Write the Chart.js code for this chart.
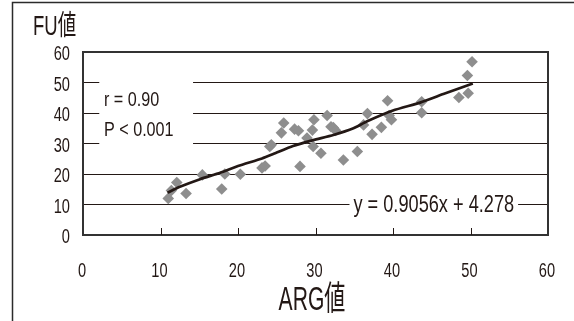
<!DOCTYPE html>
<html>
<head>
<meta charset="utf-8">
<script src="https://cdn.jsdelivr.net/npm/chart.js@4"></script>
<style>
html,body{margin:0;padding:0;background:#fff;}
#wrap{width:574px;height:321px;position:relative;}
</style>
</head>
<body>
<div id="wrap"><canvas id="c" width="574" height="321"></canvas></div>
<script>
// ---- data ----
const argValues = [11.0,11.4,12.1,13.3,15.4,17.9,18.3,20.3,23.1,23.5,24.1,24.3,25.6,25.9,27.3,27.8,28.0,28.9,29.6,29.8,29.7,30.7,31.5,32.0,32.3,32.6,33.6,35.4,36.2,36.7,37.3,38.5,39.3,39.5,39.8,43.7,43.7,48.5,49.7,49.6,50.2];
const fuValues  = [12.0,14.6,17.2,13.6,19.7,15.1,20.0,19.9,22.0,22.6,29.0,29.6,33.5,36.7,34.7,34.2,22.5,31.8,34.4,37.8,29.0,26.8,39.2,35.5,35.2,34.3,24.6,27.4,36.1,39.8,33.0,35.3,44.0,39.2,37.8,43.7,40.1,45.1,46.5,52.3,56.8];
const trendX = [10.9,12.5,15.1,17.7,20.0,23.1,24.6,27.1,29.7,32.3,34.9,36.6,40.0,43.5,46.5,50.3];
const trendY = [13.9,15.8,18.3,20.4,22.6,25.1,26.6,29.2,31.1,32.8,35.0,37.2,40.8,43.4,46.2,49.7];
const xTickLabels = ["0","10","20","30","40","50","60"];
const yTickLabels = ["0","10","20","30","40","50","60"];
const xTitle = "ARG値";
const yTitle = "FU値";
const rText = "r = 0.90";
const pText = "P < 0.001";
const eqText = "y = 0.9056x + 4.278";

const FONT = "'Liberation Sans', 'Noto Sans CJK JP', sans-serif";
const INK = '#231815';

const scatterPts = argValues.map((x,i)=>({x:x,y:fuValues[i]}));
const trendPts = trendX.map((x,i)=>({x:x,y:trendY[i]}));

// draws real text, horizontally condensed to imitate the narrow typeface
function drawCondensed(ctx, text, x, y, size, sx, align, baseline){
  ctx.save();
  ctx.font = size + "px " + FONT;
  ctx.fillStyle = INK;
  ctx.textBaseline = baseline || 'alphabetic';
  const w = ctx.measureText(text).width * sx;
  let left = x;
  if (align === 'center') left = x - w/2;
  else if (align === 'right') left = x - w;
  ctx.translate(left, y);
  ctx.scale(sx, 1);
  ctx.textAlign = 'left';
  ctx.fillText(text, 0, 0);
  ctx.restore();
  return w;
}
function condensedWidth(ctx, text, size, sx){
  ctx.save();
  ctx.font = size + "px " + FONT;
  const w = ctx.measureText(text).width * sx;
  ctx.restore();
  return w;
}

const decor = {
  id: 'decor',
  beforeDraw(chart){
    const ctx = chart.ctx;
    ctx.save();
    ctx.fillStyle = '#fff';
    ctx.fillRect(0,0,chart.width,chart.height);
    ctx.strokeStyle = '#2b2b2b';
    ctx.lineWidth = 1.5;
    ctx.beginPath();
    ctx.moveTo(12.5, chart.height);
    ctx.lineTo(12.5, 2.5);
    ctx.lineTo(chart.width, 2.5);
    ctx.stroke();
    ctx.restore();
  },
  beforeDatasetsDraw(chart){
    const ctx = chart.ctx;
    const xs = chart.scales.x, ys = chart.scales.y;
    const a = chart.chartArea;
    ctx.save();
    // plot border
    ctx.strokeStyle = '#333';
    ctx.lineWidth = 2;
    ctx.strokeRect(a.left, a.top, a.right - a.left, a.bottom - a.top);
    // inner tick marks on x axis
    ctx.lineWidth = 1;
    ctx.strokeStyle = INK;
    xs.ticks.forEach(t=>{
      if (t.value <= xs.min || t.value >= xs.max) return;
      const px = Math.round(xs.getPixelForValue(t.value)) + 0.5;
      ctx.beginPath();
      ctx.moveTo(px, a.bottom);
      ctx.lineTo(px, a.bottom - 7);
      ctx.stroke();
    });
    // white label boxes
    ctx.fillStyle = '#fff';
    const bx1 = xs.getPixelForValue(2.1), bx2 = xs.getPixelForValue(14.2);
    const by1 = ys.getPixelForValue(52.5), by2 = ys.getPixelForValue(28.3);
    ctx.fillRect(bx1, by1, bx2 - bx1, by2 - by1);
    const ew = condensedWidth(ctx, eqText, 23, 0.79);
    const ex = xs.getPixelForValue(34.9);
    const ey = ys.getPixelForValue(10);
    ctx.fillRect(ex - 4, ey - 11, ew + 8, 22);
    ctx.restore();
    // texts
    drawCondensed(ctx, eqText, ex, ey + 1, 23, 0.79, 'left', 'middle');
    drawCondensed(ctx, rText, xs.getPixelForValue(2.7), ys.getPixelForValue(44.1), 21, 0.77, 'left', 'middle');
    drawCondensed(ctx, pText, xs.getPixelForValue(2.7), ys.getPixelForValue(34.2), 21, 0.77, 'left', 'middle');
  },
  afterDraw(chart){
    const ctx = chart.ctx;
    const xs = chart.scales.x, ys = chart.scales.y;
    // tick labels at the scales' tick positions
    xs.ticks.forEach((t,i)=>{
      const lbl = xTickLabels[i] !== undefined ? xTickLabels[i] : String(t.value);
      drawCondensed(ctx, lbl, xs.getPixelForValue(t.value) - 1, 272, 19.5, 0.75, 'center', 'middle');
    });
    ys.ticks.forEach((t,i)=>{
      const lbl = yTickLabels[i] !== undefined ? yTickLabels[i] : String(t.value);
      drawCondensed(ctx, lbl, 70, ys.getPixelForValue(t.value) + 3, 19.5, 0.75, 'right', 'middle');
    });
    drawCondensed(ctx, yTitle, 33, 35, 28, 0.66, 'left');
    drawCondensed(ctx, xTitle, 312, 310, 34, 0.62, 'center');
  }
};

new Chart(document.getElementById('c'), {
  type: 'scatter',
  data: {
    datasets: [
      {
        label: 'FU',
        data: scatterPts,
        pointStyle: 'rectRot',
        pointRadius: 5.8,
        pointBackgroundColor: '#8e8e8e',
        pointBorderWidth: 0,
        pointBorderColor: '#8e8e8e',
        order: 2
      },
      {
        label: 'trend',
        data: trendPts,
        type: 'line',
        showLine: true,
        borderColor: INK,
        borderWidth: 2.7,
        pointRadius: 0,
        tension: 0.2,
        fill: false,
        order: 1
      }
    ]
  },
  plugins: [decor],
  options: {
    responsive: false,
    animation: false,
    devicePixelRatio: 1,
    layout: { padding: { left: 0, right: 26, top: 52, bottom: 0 } },
    plugins: { legend: { display: false }, tooltip: { enabled: false } },
    scales: {
      x: {
        type: 'linear', min: 0, max: 60,
        ticks: { stepSize: 10, display: false },
        grid: { display: false, drawTicks: false },
        border: { display: false },
        afterFit(s){ s.height = 86; s.paddingLeft = 0; s.paddingRight = 0; }
      },
      y: {
        type: 'linear', min: 0, max: 60,
        ticks: { stepSize: 10, display: false },
        grid: {
          drawTicks: false,
          lineWidth: 1,
          color: (c)=> (c.tick && (c.tick.value === 0 || c.tick.value === 60)) ? 'rgba(0,0,0,0)' : INK
        },
        border: { display: false },
        afterFit(s){ s.width = 83; s.paddingTop = 0; s.paddingBottom = 0; }
      }
    }
  }
});
</script>
</body>
</html>
